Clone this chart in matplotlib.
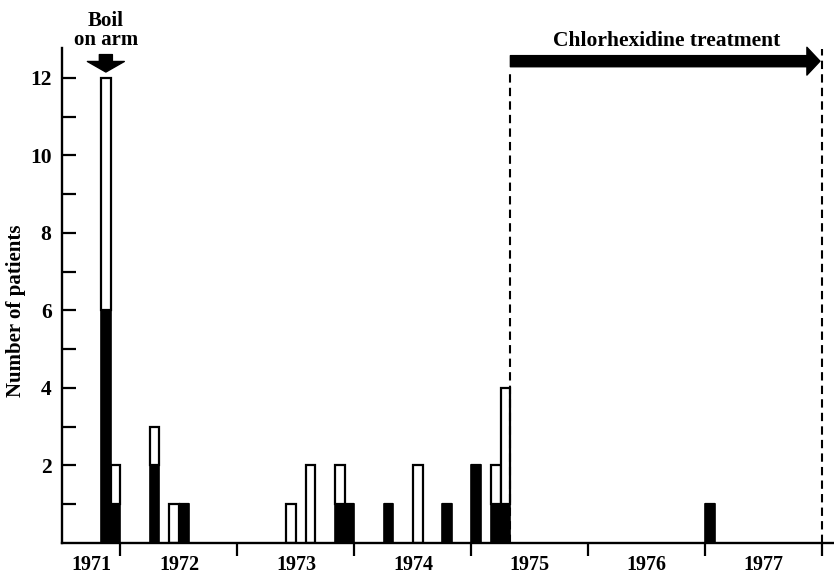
import numpy as np
import matplotlib
matplotlib.use("Agg")
import matplotlib.pyplot as plt
from matplotlib.ticker import FixedLocator, NullFormatter

plt.rcParams['font.family'] = ['Liberation Serif', 'DejaVu Serif']
plt.rcParams['font.weight'] = 'bold'
plt.rcParams['axes.labelweight'] = 'bold'

# ---------------------------------------------------------------------------
# Data: monthly counts of patients (black = lower segment, white = upper)
# ---------------------------------------------------------------------------
years  = [1971, 1971, 1972, 1972, 1972, 1973, 1973, 1973, 1973,
          1974, 1974, 1974, 1975, 1975, 1975, 1977]
months = [11, 12, 4, 6, 7, 6, 8, 11, 12, 4, 7, 10, 1, 3, 4, 1]
black  = [6, 1, 2, 0, 1, 0, 0, 1, 1, 1, 0, 1, 2, 1, 1, 1]
white  = [6, 1, 1, 1, 0, 1, 2, 1, 0, 0, 2, 0, 0, 1, 3, 0]

year_ticks  = [1972, 1973, 1974, 1975, 1976, 1977, 1978]
year_labels = ['1971', '1972', '1973', '1974', '1975', '1976', '1977']
label_pos   = [1971.75, 1972.5, 1973.5, 1974.5, 1975.5, 1976.5, 1977.5]

boil_at   = (1971, 11)          # month of the boil on arm
treat_on  = (1975, 5)           # chlorhexidine treatment start
treat_off = (1978, 1)

def to_x(y, m):
    return y + (m - 1) / 12.0

x = np.array([to_x(y, m) for y, m in zip(years, months)])
black = np.array(black)
white = np.array(white)
w = 1 / 12.0

fig = plt.figure(figsize=(8.34, 5.78), dpi=100)
ax = fig.add_axes([62 / 834, 35 / 578, 1 - 62 / 834, 495 / 578])

ax.bar(x, black, width=w, align='edge', color='black', edgecolor='black', linewidth=1.2)
ax.bar(x, white, width=w, bottom=black, align='edge', color='white',
       edgecolor='black', linewidth=1.6)

ax.set_xlim(1971.5, 1978.1)
ax.set_ylim(0, 12.77)

for s in ['top', 'right']:
    ax.spines[s].set_visible(False)
for s in ['left', 'bottom']:
    ax.spines[s].set_linewidth(1.7)

# x axis: year boundary ticks, labels in between
ax.xaxis.set_major_locator(FixedLocator(year_ticks))
ax.xaxis.set_major_formatter(NullFormatter())
ax.xaxis.set_minor_locator(FixedLocator(label_pos))
ax.set_xticklabels(year_labels, minor=True)
ax.tick_params(axis='x', which='major', direction='out', length=9, width=1.6)
ax.tick_params(axis='x', which='minor', length=0, pad=9, labelsize=14.5)

# y axis: ticks every patient, labels on even numbers
ax.set_yticks([2, 4, 6, 8, 10, 12])
ax.yaxis.set_minor_locator(FixedLocator([1, 3, 5, 7, 9, 11]))
ax.tick_params(axis='y', which='both', direction='in', length=10, width=1.6)
ax.tick_params(axis='y', which='major', pad=7.5, labelsize=15.5)
ax.set_ylabel('Number of patients', fontsize=15)
ax.yaxis.set_label_coords(-0.046, 0.47)

# boil on arm
bx = to_x(*boil_at) + w / 2
ax.annotate('', xy=(bx, 12.15), xytext=(bx, 12.6), annotation_clip=False,
            arrowprops=dict(arrowstyle='simple,head_width=1.33,head_length=0.38,tail_width=0.47',
                            mutation_scale=20, color='black', shrinkA=0, shrinkB=0))
ax.text(bx, 12.72, 'Boil\non arm', ha='center', va='bottom', fontsize=15,
        linespacing=0.95, clip_on=False)

# chlorhexidine treatment
t0 = to_x(*treat_on)
t1 = to_x(*treat_off)
ax.plot([t0, t0], [0, 12.2], ls=(0, (4, 2.5)), color='black', lw=1.5, clip_on=False)
ax.plot([t1, t1], [0, 12.75], ls=(0, (4, 2.5)), color='black', lw=1.5, clip_on=False)
ax.annotate('', xy=(t1 - 0.02, 12.43), xytext=(t0, 12.43), annotation_clip=False,
            arrowprops=dict(arrowstyle='simple,head_width=1.0,head_length=0.47,tail_width=0.4',
                            mutation_scale=20, color='black', shrinkA=0, shrinkB=0))
ax.text((t0 + t1) / 2, 12.7, 'Chlorhexidine treatment', ha='center', va='bottom',
        fontsize=15.5, clip_on=False)

fig.savefig('out.png', dpi=100)
